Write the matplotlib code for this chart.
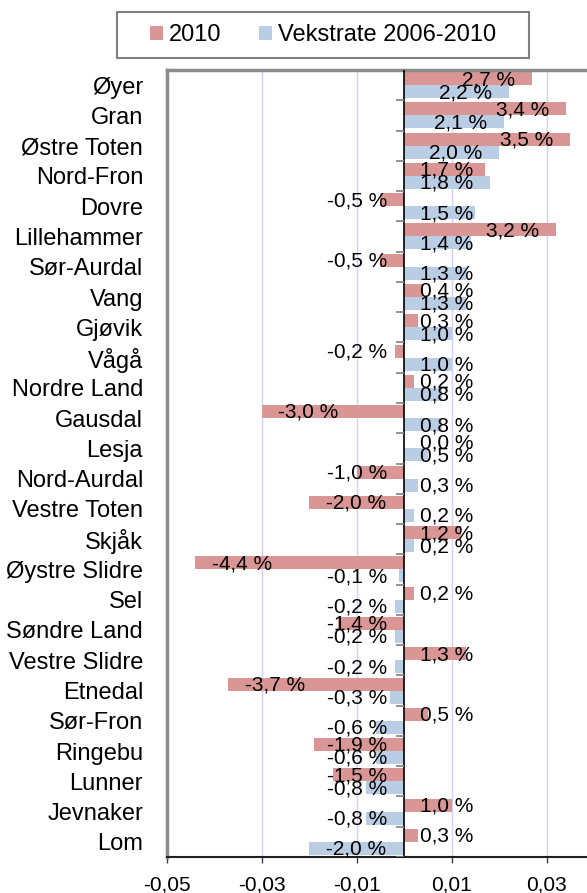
import matplotlib
matplotlib.use("Agg")
import matplotlib.pyplot as plt
from matplotlib.patches import Rectangle, Patch
import numpy as np

plt.rcParams['font.family'] = ['Liberation Sans', 'DejaVu Sans']

# Kommuner, sortert etter vekstrate
kommuner = ['Øyer', 'Gran', 'Østre Toten', 'Nord-Fron', 'Dovre', 'Lillehammer',
            'Sør-Aurdal', 'Vang', 'Gjøvik', 'Vågå', 'Nordre Land', 'Gausdal',
            'Lesja', 'Nord-Aurdal', 'Vestre Toten', 'Skjåk', 'Øystre Slidre',
            'Sel', 'Søndre Land', 'Vestre Slidre', 'Etnedal', 'Sør-Fron',
            'Ringebu', 'Lunner', 'Jevnaker', 'Lom']

# prosent
endring_2010 = [2.7, 3.4, 3.5, 1.7, -0.5, 3.2, -0.5, 0.4, 0.3, -0.2, 0.2, -3.0,
                0.0, -1.0, -2.0, 1.2, -4.4, 0.2, -1.4, 1.3, -3.7, 0.5, -1.9,
                -1.5, 1.0, 0.3]
vekstrate = [2.2, 2.1, 2.0, 1.8, 1.5, 1.4, 1.3, 1.3, 1.0, 1.0, 0.8, 0.8, 0.5,
             0.3, 0.2, 0.2, -0.1, -0.2, -0.2, -0.2, -0.3, -0.6, -0.6, -0.8,
             -0.8, -2.0]

xticks = [-0.05, -0.03, -0.01, 0.01, 0.03]
xticklabels = ['-0,05', '-0,03', '-0,01', '0,01', '0,03']

red = '#DA9694'
blue = '#B9CDE5'

W, H = 587, 893
fig = plt.figure(figsize=(W / 100, H / 100), dpi=100)
ax = fig.add_axes([166.7 / W, 36 / H, 1 - 166.7 / W, (857 - 70) / H])

n = len(kommuner)
y = np.arange(n)
a = np.array(endring_2010) / 100
b = np.array(vekstrate) / 100

ax.barh(y - 0.215, a, height=0.43, color=red, zorder=2)
ax.barh(y + 0.215, b, height=0.43, color=blue, zorder=2)

ax.set_xlim(-0.05, 0.0385)
ax.set_ylim(n - 0.5, -0.5)

# datalabels
px = 0.0885 / (W - 166.7)
def label(vals, offs):
    for yi, v in zip(y, vals):
        txt = f"{v * 100:.1f} %".replace('.', ',')
        if v >= 0:
            x = max(v - 70 * px, 16 * px)
            ax.text(x, yi + offs + 0.03, txt, ha='left', va='center', fontsize=15, zorder=4)
        else:
            x = min(v + 77 * px, -17 * px)
            ax.text(x, yi + offs + 0.03, txt, ha='right', va='center', fontsize=15, zorder=4)

label(a, -0.215)
label(b, 0.215)

# y-akse ved null
ax.axvline(0, color='black', lw=1.2, zorder=3)
ax.hlines(np.arange(n) + 0.5, -8 * px, 0, color='#808080', lw=1.2, zorder=3)

ax.set_xticks(xticks)
ax.set_xticklabels(xticklabels, fontsize=15)
ax.tick_params(axis='x', length=4, width=1, color='#404040', pad=9)
ax.set_yticks(y)
ax.set_yticklabels(kommuner, fontsize=17)
ax.tick_params(axis='y', length=0, pad=17)

ax.grid(axis='x', color='#D0D0FA', lw=1, zorder=0)
ax.set_axisbelow(True)

ax.spines['right'].set_visible(False)
ax.spines['left'].set_color('#8C8C8C')
ax.spines['left'].set_linewidth(2.5)
ax.spines['top'].set_color('#8C8C8C')
ax.spines['top'].set_linewidth(2.5)
ax.spines['bottom'].set_color('#202020')
ax.spines['bottom'].set_linewidth(1.5)

# legende
handles = [Patch(facecolor=red, label='2010'),
           Patch(facecolor=blue, label='Vekstrate 2006-2010')]
fig.legend(handles=handles, loc='center', bbox_to_anchor=(323 / W, 1 - 35 / H),
           ncol=2, frameon=False, fontsize=17, handlelength=0.55, handleheight=0.55,
           handletextpad=0.25, columnspacing=1.6)
fig.patches.append(Rectangle((117 / W, 1 - 58 / H), (529 - 117) / W, 46 / H,
                             transform=fig.transFigure, fill=False,
                             edgecolor='#7F7F7F', lw=1.5))

fig.savefig('out.png', dpi=100)
